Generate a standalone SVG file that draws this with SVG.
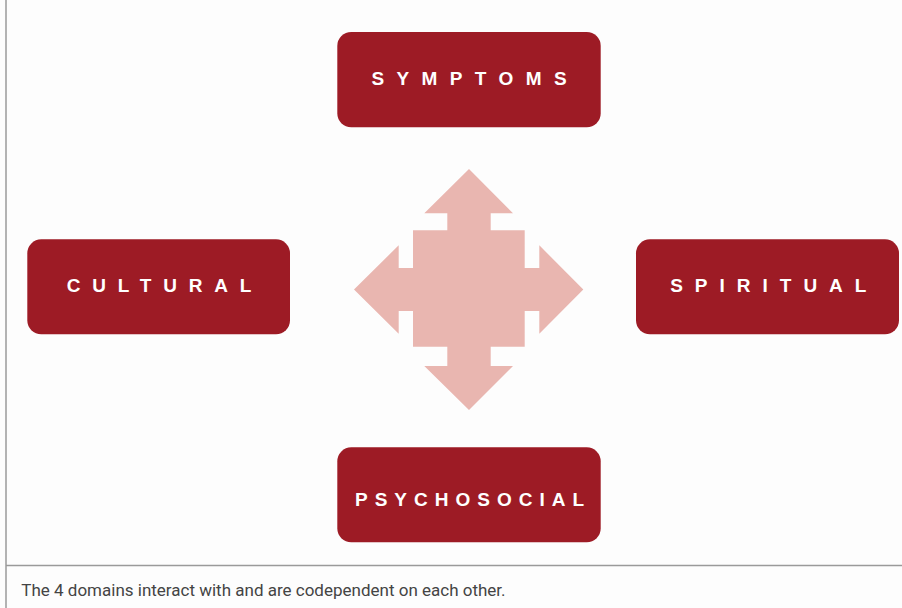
<svg xmlns="http://www.w3.org/2000/svg" width="902" height="608" viewBox="0 0 902 608">
  <style>
    .box { fill: #9d1b25; }
    .label { font-family: "Liberation Sans", Arial, sans-serif; font-weight: bold; font-size: 19px; fill: #ffffff; text-anchor: middle; }
    .caption { font-family: Roboto, "Liberation Sans", sans-serif; font-size: 17px; fill: #444444; }
    .rule { stroke: #9a9a9a; stroke-width: 1.5; fill: none; }
  </style>

  <rect x="0" y="0" width="902" height="608" fill="#fdfdfd"/>

  <!-- frame lines -->
  <line class="rule" x1="6" y1="0" x2="6" y2="608"/>
  <line class="rule" x1="6" y1="565.5" x2="902" y2="565.5"/>

  <!-- four-way arrow linking the domains -->
  <g id="connectors">
    <path fill="#e9b6b0" d="M469,169 L513,213.3 L490.7,213.3 L490.7,230.3 L524.7,230.3 L524.7,268 L539.3,268 L539.3,245.3 L583.3,289.5 L539.3,333.7 L539.3,311 L524.7,311 L524.7,346.7 L490.7,346.7 L490.7,366 L513,366 L469,410 L424.3,366 L447.3,366 L447.3,346.7 L413,346.7 L413,311 L398.7,311 L398.7,333.7 L354,289.5 L398.7,245.3 L398.7,268 L413,268 L413,230.3 L447.3,230.3 L447.3,213.3 L424.3,213.3 Z"/>
  </g>

  <g id="symptoms">
    <rect class="box" x="337.3" y="32" width="263.4" height="95.3" rx="14"/>
    <text class="label" x="475.2" y="84.5" letter-spacing="12.4">SYMPTOMS</text>
  </g>

  <g id="cultural">
    <rect class="box" x="27.3" y="239.3" width="262.7" height="95" rx="14"/>
    <text class="label" x="165" y="292.3" letter-spacing="11.8">CULTURAL</text>
  </g>

  <g id="spiritual">
    <rect class="box" x="636" y="239.3" width="263" height="95" rx="14"/>
    <text class="label" x="774.3" y="292.3" letter-spacing="12">SPIRITUAL</text>
  </g>

  <g id="psychosocial">
    <rect class="box" x="337.3" y="447.3" width="263.4" height="95" rx="14"/>
    <text class="label" x="473" y="506.3" letter-spacing="7">PSYCHOSOCIAL</text>
  </g>

  <text class="caption" x="21.3" y="596">The 4 domains interact with and are codependent on each other.</text>
</svg>
